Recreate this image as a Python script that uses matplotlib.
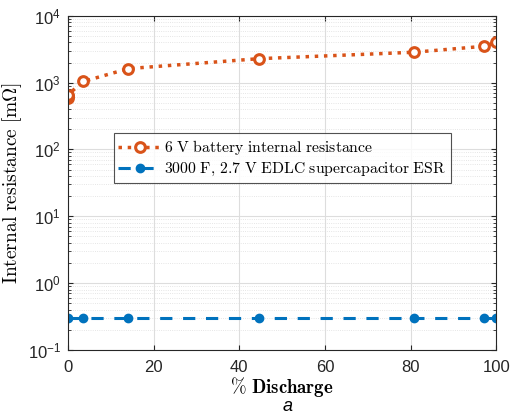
import numpy as np
import matplotlib.pyplot as plt

plt.rcParams['mathtext.fontset'] = 'cm'
plt.rcParams['font.family'] = ['Liberation Sans', 'DejaVu Sans']

# battery internal resistance (mOhm) vs % discharge
bat_x = [0, 0, 0, 3.6, 14.1, 44.5, 80.8, 97.2, 100]
bat_r = [580, 620, 660, 1040, 1620, 2280, 2850, 3500, 4000]
# supercapacitor ESR (mOhm)
sc_x = [0, 3.6, 14.1, 44.5, 80.8, 97.2, 100]
sc_r = [0.3, 0.3, 0.3, 0.3, 0.3, 0.3, 0.3]

orange = '#D95319'
blue = '#0072BD'

fig = plt.figure(figsize=(5.11, 4.16), dpi=100)
ax = fig.add_axes([0.133, 0.159, 0.838, 0.803])

ax.plot(bat_x, bat_r, linestyle=':', color=orange, lw=2.5, marker='o',
        markersize=7, markerfacecolor='white', markeredgewidth=2.2,
        label=r'$\mathrm{6\ V\ battery\ internal\ resistance}$')
ax.plot(sc_x, sc_r, linestyle='--', color=blue, lw=2.2, marker='o',
        markersize=6, dashes=(4, 3.5),
        label=r'$\mathrm{3000\ F,\!\ 2.7\ V\ EDLC\ supercapacitor\ ESR}$')

ax.set_yscale('log')
ax.set_ylim(0.1, 1e4)
ax.set_xlim(0, 100)
ax.set_xticks([0, 20, 40, 60, 80, 100])

ax.grid(True, which='major', color='#dddddd', lw=0.8)
ax.grid(True, which='minor', color='#dddddd', lw=0.6, linestyle=':')
ax.set_axisbelow(True)
ax.tick_params(which='both', direction='in', top=True, right=True,
               labelsize=12, colors='#262626')
ax.tick_params(axis='x', pad=7)
ax.tick_params(axis='y', pad=5)
for s in ax.spines.values():
    s.set_color('#262626')
    s.set_linewidth(0.8)

ax.set_xlabel(r'$\%\ \mathbf{Discharge}$', fontsize=13.5, labelpad=0)
ax.set_ylabel(r'$\mathrm{Internal\ resistance\ [m}\Omega\mathrm{]}$', fontsize=14,
              labelpad=3)

leg = ax.legend(loc='upper left', bbox_to_anchor=(0.107, 0.648), fontsize=11.3,
                frameon=True, fancybox=False, edgecolor='#262626',
                borderpad=0.3, handlelength=2.8, handletextpad=0.1,
                labelspacing=0.25, borderaxespad=0)
leg.get_frame().set_linewidth(0.8)

fig.text(0.562, 0.002, 'a', style='italic', fontsize=13, ha='center', va='bottom')

fig.savefig('out.png', dpi=100)
